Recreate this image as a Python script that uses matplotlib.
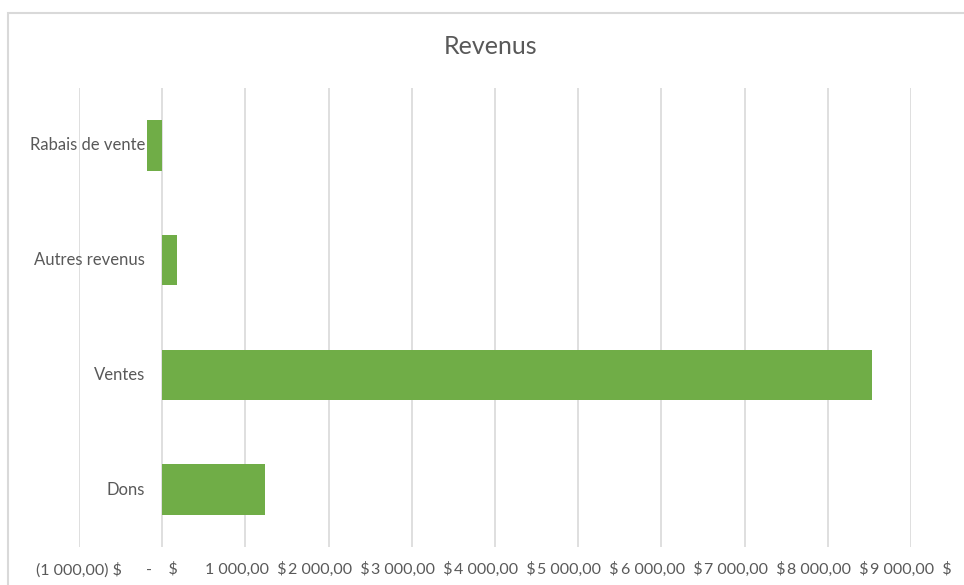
import matplotlib.pyplot as plt
from matplotlib.patches import Rectangle

# Données
categories = ['Dons', 'Ventes', 'Autres revenus', 'Rabais de vente']
valeurs = [1235, 8530, 180, -185]
ticks = [-1000, 0, 1000, 2000, 3000, 4000, 5000, 6000, 7000, 8000, 9000]
tick_labels = ['(1 000,00) $', '-    $', '1 000,00  $', '2 000,00  $', '3 000,00  $',
               '4 000,00  $', '5 000,00  $', '6 000,00  $', '7 000,00  $',
               '8 000,00  $', '9 000,00  $']

plt.rcParams['font.family'] = ['Lato', 'DejaVu Sans']

W, H = 964, 585
fig = plt.figure(figsize=(W / 100, H / 100), dpi=100)
ax = fig.add_axes([79 / W, 1 - 547 / H, (911 - 79) / W, (547 - 88) / H])

# Cadre du graphique
fig.patches.append(Rectangle((8 / W, -0.05), 1.1, 1 - 13 / H + 0.05,
                             transform=fig.transFigure, fill=False,
                             edgecolor='#d9d9d9', linewidth=1.5))

y = list(range(len(categories)))
ax.barh(y, valeurs, height=0.44, color='#70AD47', zorder=3)

ax.set_xlim(-1000, 9000)
ax.set_ylim(-0.5, len(categories) - 0.5)
ax.set_xticks(ticks)
ax.set_xticklabels(tick_labels, fontsize=11.5, color='#595959')
ax.set_yticks([])
ax.tick_params(axis='x', length=0, pad=11)

# Étiquettes des catégories (à gauche de l'axe zéro)
x_lab = (145 - 79) / (911 - 79)
for yi, cat in zip(y, categories):
    ax.text(x_lab, yi, cat, transform=ax.get_yaxis_transform(),
            ha='right', va='center', fontsize=12, color='#595959', zorder=4)

ax.grid(axis='x', color='#d9d9d9', linewidth=1.2, zorder=0)
for s in ax.spines.values():
    s.set_visible(False)

fig.text(491 / W, 1 - 47 / H, 'Revenus', ha='center', va='center',
         fontsize=18, color='#595959')

fig.savefig('out.png', dpi=100)
